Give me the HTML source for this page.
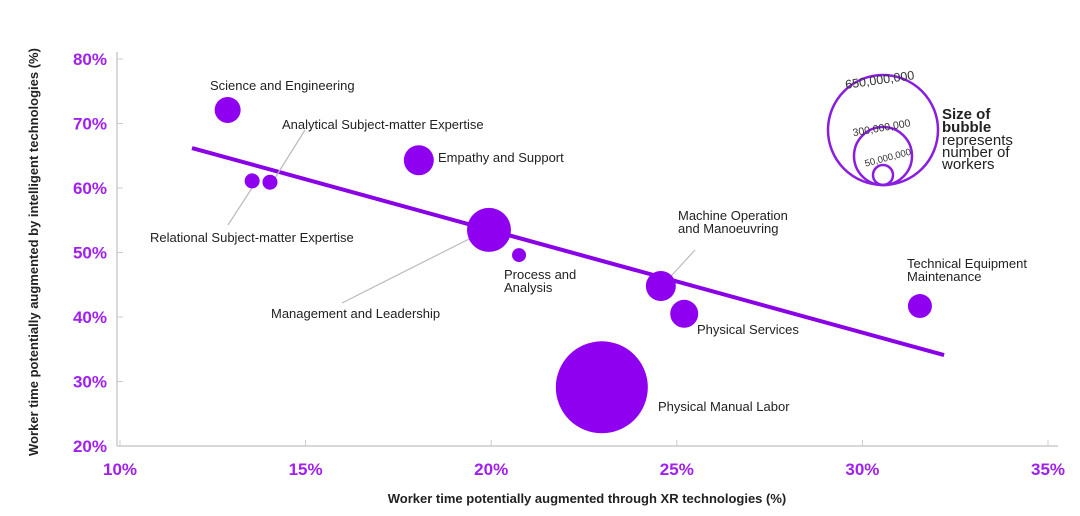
<!DOCTYPE html>
<html><head><meta charset="utf-8"><style>
body{margin:0;background:#fff;}
svg{display:block;font-family:"Liberation Sans",sans-serif;}
</style></head><body>
<svg id="chart" width="1080" height="516">
<g id="axes"></g><g id="marks"></g>
<g fill="none" stroke="#8a1ee0" stroke-width="2.5">
<circle cx="883" cy="130" r="55"/><circle cx="883" cy="156" r="29"/><circle cx="883" cy="175" r="10"/>
</g>
<g font-size="11" fill="#333">
<text x="845" y="84" transform="rotate(-8 880 80)" font-size="12.5">650,000,000</text>
<text x="852" y="131" transform="rotate(-10 883 126)" font-size="10.5">300,000,000</text>
<text x="864" y="162" transform="rotate(-15 883 158)" font-size="9.5">50,000,000</text>
</g>
<g font-size="15" fill="#222">
<text x="942" y="119" font-weight="bold">Size of</text>
<text x="942" y="132" font-weight="bold">bubble</text>
<text x="942" y="145">represents</text>
<text x="942" y="157">number of</text>
<text x="942" y="169">workers</text>
</g>
<text x="587" y="503" text-anchor="middle" font-size="13" font-weight="bold" fill="#222">Worker time potentially augmented through XR technologies (%)</text>
<text transform="translate(38 252) rotate(-90)" text-anchor="middle" font-size="13" font-weight="bold" fill="#222">Worker time potentially augmented by intelligent technologies (%)</text>
</svg>
<script>
const names=["Science and Engineering","Relational Subject-matter Expertise","Analytical Subject-matter Expertise","Empathy and Support","Management and Leadership","Process and Analysis","Machine Operation and Manoeuvring","Physical Services","Physical Manual Labor","Technical Equipment Maintenance"];
const xVals=[12.9,13.56,14.04,18.05,19.94,20.75,24.57,25.2,22.98,31.55];
const yVals=[72.1,61.1,60.9,64.3,53.5,49.6,44.8,40.5,29.1,41.7];
const sizes=[13,7.5,7.5,15,22,7,15,14,46,12];
const xTicks=[10,15,20,25,30,35];
const yTicks=[20,30,40,50,60,70,80];
const trendX=[11.94,32.2];
const trendY=[66.2,34.1];
const X=v=>120+(v-10)*37.12, Y=v=>446-(v-20)*6.45;
const ns="http://www.w3.org/2000/svg";
function mk(t,a,p){const e=document.createElementNS(ns,t);for(const k in a)e.setAttribute(k,a[k]);p.appendChild(e);return e;}
const ax=document.getElementById('axes'), mg=document.getElementById('marks');
const xl=mk('line',{x1:117,y1:446,x2:1058,y2:446,stroke:'#ccc','stroke-width':1.5},ax);


const yl=mk('line',{x1:117,y1:52,x2:117,y2:446,stroke:'#ccc','stroke-width':1.5},ax);


xTicks.forEach(t=>{mk('line',{x1:X(t),y1:440,x2:X(t),y2:446,stroke:'#ccc'},ax);
const e=mk('text',{x:X(t),y:475,'text-anchor':'middle','font-size':17,'font-weight':'bold',fill:'#a020f0'},ax);e.textContent=t+'%';

});
yTicks.forEach(t=>{mk('line',{x1:117,y1:Y(t),x2:123,y2:Y(t),stroke:'#ccc'},ax);
const e=mk('text',{x:107,y:Y(t)+6,'text-anchor':'end','font-size':17,'font-weight':'bold',fill:'#a020f0'},ax);e.textContent=t+'%';

});
const tl=mk('line',{x1:X(trendX[0]),y1:Y(trendY[0]),x2:X(trendX[1]),y2:Y(trendY[1]),stroke:'#8a00e6','stroke-width':4},mg);


const lead=[[275,178,305,130],[252,188,228,225],[475,236,342,303],[662,286,695,250]];
lead.forEach(l=>mk('line',{x1:l[0],y1:l[1],x2:l[2],y2:l[3],stroke:'#bbb','stroke-width':1.2},mg));
xVals.forEach((v,i)=>{const c=mk('circle',{cx:X(v),cy:Y(yVals[i]),r:sizes[i],fill:'#9000f0'},mg);

});
const labs=[["Science and Engineering",210,90],["Analytical Subject-matter Expertise",282,129],["Empathy and Support",438,162],["Relational Subject-matter Expertise",150,242],["Process and",504,279],["Analysis",504,292],["Machine Operation",678,220],["and Manoeuvring",678,233],["Management and Leadership",271,318],["Physical Services",697,334],["Physical Manual Labor",658,411],["Technical Equipment",907,268],["Maintenance",907,281]];
labs.forEach(l=>{const e=mk('text',{x:l[1],y:l[2],'font-size':13,fill:'#222'},mg);e.textContent=l[0];

});
</script>
</body></html>
